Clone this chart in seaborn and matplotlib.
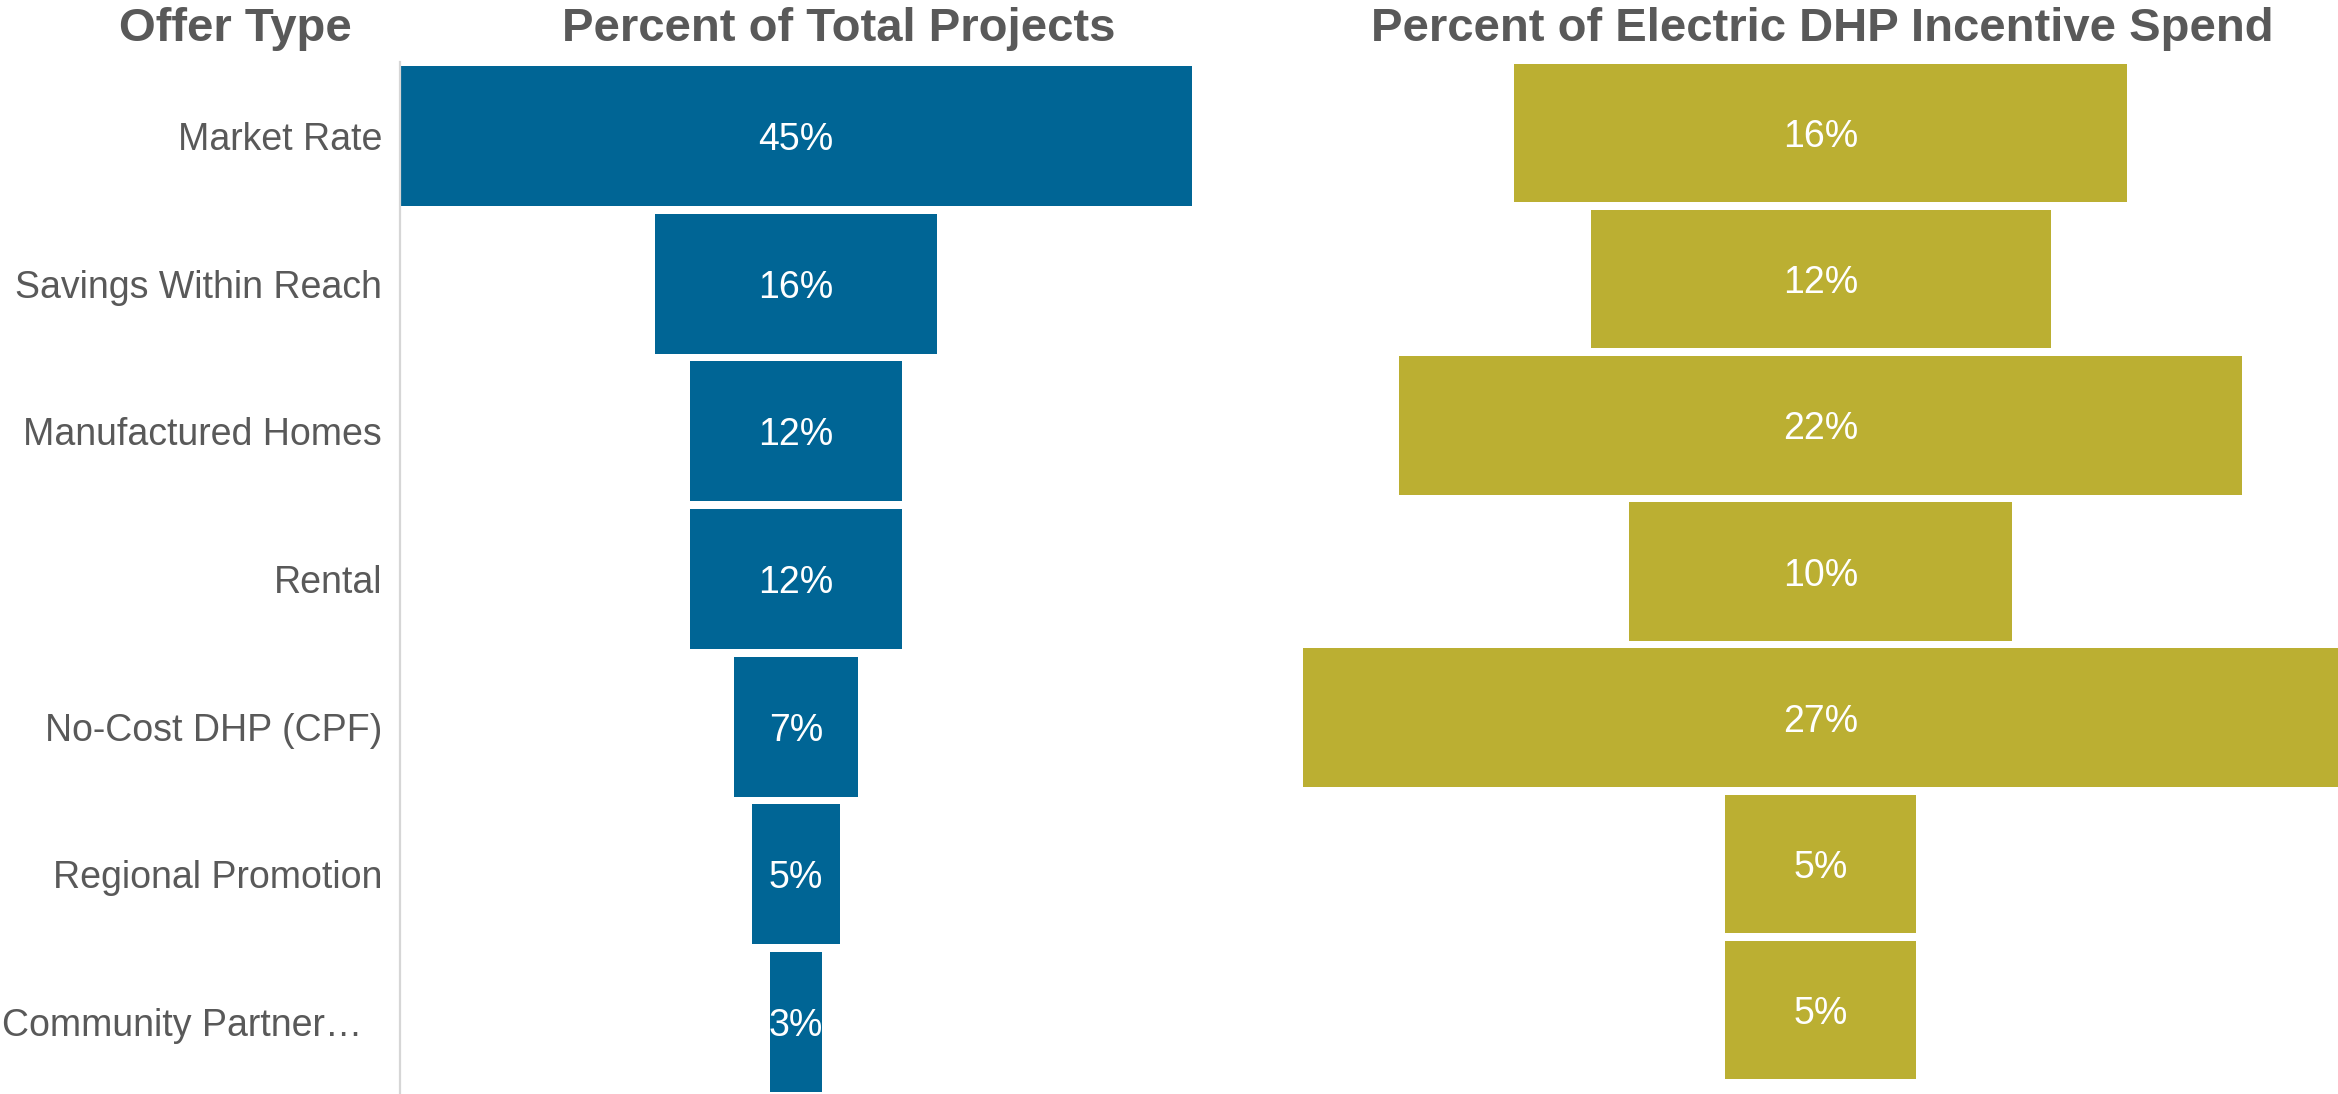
import matplotlib
matplotlib.use("Agg")
import matplotlib.pyplot as plt
from matplotlib.transforms import ScaledTranslation
import seaborn as sns
import pandas as pd

# Offer types and their shares
offer_types = [
    "Market Rate",
    "Savings Within Reach",
    "Manufactured Homes",
    "Rental",
    "No-Cost DHP (CPF)",
    "Regional Promotion",
    "Community Partner\u2026",
]
pct_projects = [45, 16, 12, 12, 7, 5, 3]
pct_spend = [16, 12, 22, 10, 27, 5, 5]

col_titles = ["Offer Type", "Percent of Total Projects", "Percent of Electric DHP Incentive Spend"]

BLUE = "#006595"
OLIVE = "#BBAF32"
GRAY = "#595959"

sns.set_theme(style="white")
plt.rcParams["font.family"] = ["Liberation Sans", "DejaVu Sans"]

W, H = 2338, 1094
fig = plt.figure(figsize=(W / 100, H / 100), dpi=100)

df = pd.DataFrame({"offer": offer_types, "projects": pct_projects, "spend": pct_spend})


def px_axes(x0, x1, y_top, y_bot):
    return fig.add_axes([x0 / W, 1 - y_bot / H, (x1 - x0) / W, (y_bot - y_top) / H])


def funnel(ax, col, color, half_span):
    sns.barplot(data=df, x=col, y="offer", orient="h", color=color,
                width=0.948, saturation=1, ax=ax, linewidth=0)
    # center each bar around zero to form the funnel
    for p in ax.patches:
        p.set_x(-p.get_width() / 2)
    ax.set_xlim(-half_span, half_span)
    ax.set_ylim(len(offer_types) - 0.5, -0.5)
    texts = ax.bar_label(ax.containers[0], labels=[f"{v}%" for v in df[col]],
                         label_type="center", color="white", fontsize=27)
    for t in texts:
        t.set_va("center_baseline")
    ax.set_xlabel("")
    ax.set_ylabel("")
    ax.set_xticks([])
    for s in ax.spines.values():
        s.set_visible(False)


# Left panel: share of projects
ax1 = px_axes(400, 1192, 62, 1096)
funnel(ax1, "projects", BLUE, 22.5)
ax1.spines["left"].set_visible(True)
ax1.spines["left"].set_color("#d6d6d6")
ax1.spines["left"].set_linewidth(1.6)
ax1.tick_params(axis="y", length=0, pad=13, labelsize=27, labelcolor=GRAY)

# the truncated label keeps a little room after its ellipsis
last = ax1.get_yticklabels()[-1]
last.set_transform(last.get_transform() + ScaledTranslation(-0.2, 0, fig.dpi_scale_trans))

# Right panel: share of incentive spend
ax2 = px_axes(1303, 2338, 60, 1083)
funnel(ax2, "spend", OLIVE, 13.5)
ax2.set_yticks([])

# Column headers
title_x = [235, 839, 1822]
for t, x in zip(col_titles, title_x):
    fig.text(x / W, 1 - 41 / H, t, ha="center", va="baseline",
             fontsize=34, fontweight="bold", color=GRAY)

fig.savefig("out.png", dpi=100)
